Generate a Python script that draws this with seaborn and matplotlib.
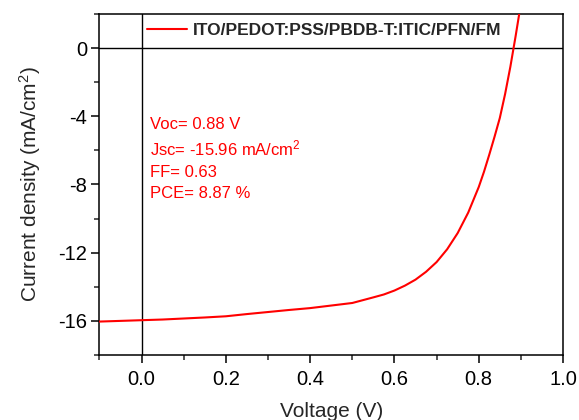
import matplotlib
matplotlib.use("Agg")
import matplotlib.pyplot as plt
from matplotlib.ticker import MultipleLocator
import seaborn as sns
import pandas as pd

# J-V characteristic of the device
voltage = [-0.10, -0.05, 0.00, 0.05, 0.10, 0.15, 0.20, 0.25, 0.30, 0.35,
           0.40, 0.45, 0.50, 0.55, 0.575, 0.60, 0.625, 0.65, 0.675, 0.70,
           0.725, 0.75, 0.775, 0.80, 0.8125, 0.825, 0.8375, 0.85, 0.8625,
           0.875, 0.8875, 0.90]
current_density = [-16.04, -16.00, -15.96, -15.92, -15.86, -15.80, -15.73, -15.60,
                   -15.48, -15.36, -15.25, -15.10, -14.95, -14.62, -14.45, -14.22,
                   -13.93, -13.58, -13.12, -12.55, -11.80, -10.85, -9.65, -8.15,
                   -7.25, -6.25, -5.20, -4.10, -2.70, -1.10, 0.70, 2.60]

device_label = "ITO/PEDOT:PSS/PBDB-T:ITIC/PFN/FM"
param_lines = ["Voc= 0.88 V", "Jsc= -15.96 mA/cm$^2$", "FF= 0.63", "PCE= 8.87 %"]
param_y = [-4.76, -6.28, -7.55, -8.78]

sns.set_theme(style="ticks")
plt.rcParams["font.family"] = ["Liberation Sans", "DejaVu Sans"]
plt.rcParams["mathtext.fontset"] = "custom"
plt.rcParams["mathtext.rm"] = "Liberation Sans"
plt.rcParams["mathtext.it"] = "Liberation Sans:italic"
plt.rcParams["mathtext.bf"] = "Liberation Sans:bold"

df = pd.DataFrame({"Voltage": voltage, "J": current_density, "Device": device_label})

fig = plt.figure(figsize=(5.79, 4.20), dpi=100)
ax = fig.add_axes([0.1718, 0.1548, 0.8006, 0.8119])

ax.axhline(0, color="black", lw=1.0, zorder=1)
ax.axvline(0, color="black", lw=1.0, zorder=1)

sns.lineplot(data=df, x="Voltage", y="J", hue="Device", palette=["#FF0000"],
             lw=1.5, ax=ax, zorder=3, sort=False)

ax.set_xlim(-0.1, 1.0)
ax.set_ylim(-18, 2)
ax.xaxis.set_minor_locator(MultipleLocator(0.1))
ax.yaxis.set_minor_locator(MultipleLocator(2))
ax.set_xticks([0.0, 0.2, 0.4, 0.6, 0.8, 1.0])
ax.set_xticklabels(["0.0", "0.2", "0.4", "0.6", "0.8", "1.0"])
ax.set_yticks([0, -4, -8, -12, -16])
ax.set_yticklabels(["0", "-4", "-8", "-12", "-16"])

ax.tick_params(axis="both", which="major", direction="out", length=6, width=1.1,
               labelsize=14.5, colors="black")
ax.tick_params(axis="y", which="major", pad=3)
ax.tick_params(axis="x", which="major", pad=5)
ax.tick_params(axis="both", which="minor", direction="out", length=3.5, width=1.1)
for s in ax.spines.values():
    s.set_linewidth(1.1)
    s.set_color("black")

ax.set_xlabel("Voltage (V)", fontsize=15, labelpad=9)
ax.set_ylabel("Current density (mA/cm$^2$)", fontsize=15, labelpad=11)

leg = ax.legend(loc="center left", bbox_to_anchor=(0.1025, 0.953), frameon=False,
                borderpad=0, borderaxespad=0, handlelength=2.3, handletextpad=0.35,
                prop={"weight": "bold", "size": 12.5})

for txt, yv in zip(param_lines, param_y):
    ax.text(0.021, yv, txt, color="#FF0000", fontsize=12, va="baseline", ha="left")

fig.patch.set_facecolor("white")
fig.savefig("out.png", dpi=100)
